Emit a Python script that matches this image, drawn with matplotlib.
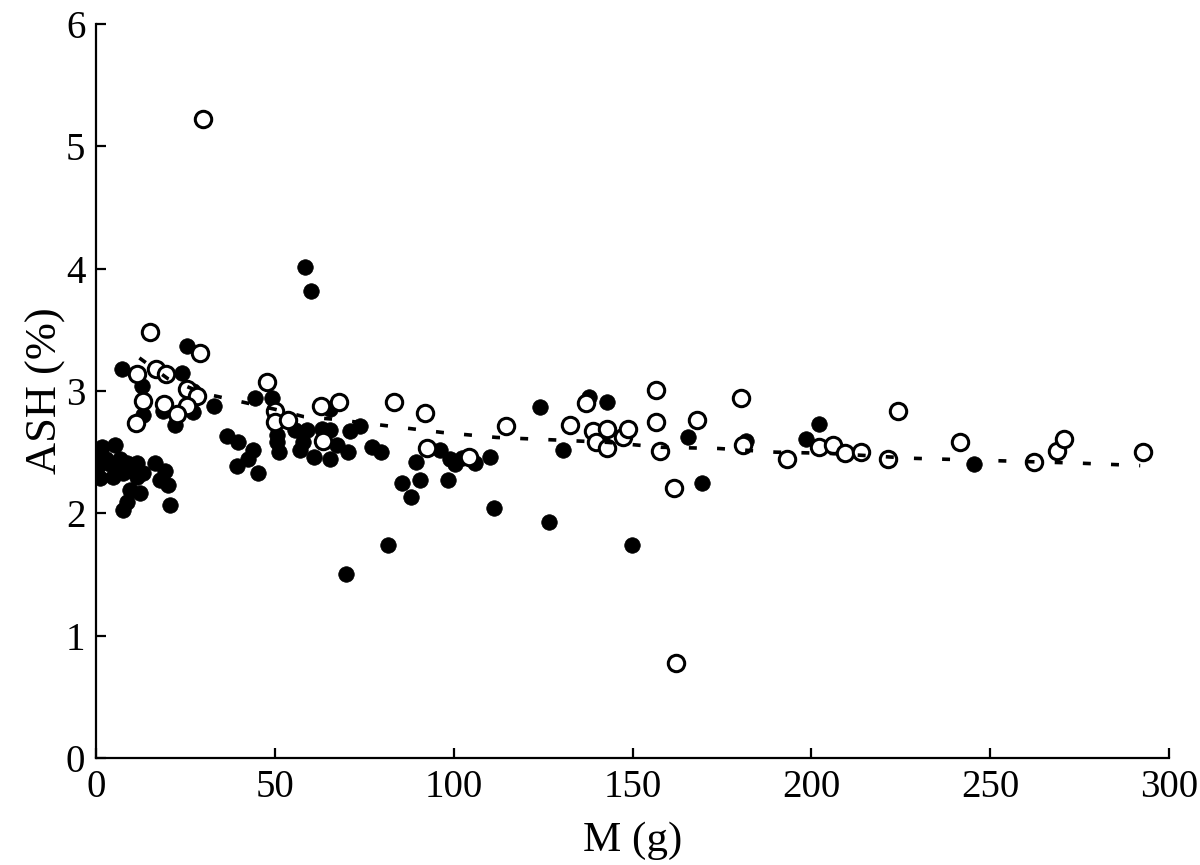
import matplotlib
matplotlib.use("Agg")
import matplotlib.pyplot as plt

plt.rcParams['font.family'] = ['Liberation Serif', 'DejaVu Serif']

# Filled circles
filled_x = [0.1, 1.5, 0.5, 1.0, 5.2, 3.8, 4.6, 6.6, 8.5, 11.3, 7.4, 10.2, 11.3, 13.0, 9.4, 12.2,
            16.4, 19.2, 17.8, 20.0, 8.5, 7.4, 20.6, 2.8, 6.0,
            7.1, 25.3, 23.9, 12.7, 27.0, 18.6, 13.0, 27.0, 22.0, 32.9, 36.5, 39.6, 39.3, 42.4,
            44.3, 49.1, 43.8, 45.2, 50.5, 50.5, 51.0, 55.5, 58.9, 57.8, 56.9, 60.8, 63.1, 65.3,
            65.3, 67.3, 65.3, 70.3, 71.0, 73.7, 77.0, 79.6, 58.3, 60.0, 89.4, 85.5, 90.5, 88.0,
            96.1, 98.9, 100.3, 102.2, 105.9, 110.1, 98.3, 111.2, 81.5, 69.8, 124.0, 137.7, 142.8,
            130.5, 126.6, 149.8, 165.5, 169.4, 198.5, 202.1, 245.5, 181.7]
filled_y = [2.48, 2.54, 2.39, 2.29, 2.56, 2.40, 2.30, 2.44, 2.41, 2.41, 2.33, 2.35, 2.30, 2.33, 2.19, 2.17,
            2.41, 2.35, 2.27, 2.23, 2.09, 2.03, 2.07, 2.44, 2.38,
            3.18, 3.37, 3.15, 3.04, 3.00, 2.84, 2.80, 2.83, 2.72, 2.88, 2.63, 2.58, 2.39, 2.44,
            2.94, 2.94, 2.52, 2.33, 2.64, 2.58, 2.50, 2.68, 2.68, 2.58, 2.52, 2.46, 2.69, 2.68,
            2.85, 2.56, 2.44, 2.50, 2.67, 2.71, 2.54, 2.50, 4.01, 3.82, 2.42, 2.25, 2.27, 2.13,
            2.52, 2.44, 2.40, 2.45, 2.41, 2.46, 2.27, 2.04, 1.74, 1.50, 2.87, 2.95, 2.91,
            2.52, 1.93, 1.74, 2.62, 2.25, 2.61, 2.73, 2.40, 2.59]

# Open circles
open_x = [29.8, 15.0, 29.0, 16.6, 11.3, 19.4, 25.3, 28.1, 13.0, 18.9, 25.3, 22.5, 11.1, 47.7, 49.9,
          49.9, 53.6, 62.8, 67.8, 63.4, 83.2, 91.9, 92.4, 104.2, 114.6, 132.4, 136.9, 138.9, 139.7,
          142.8, 142.8, 147.3, 148.7, 156.5, 156.5, 157.6, 161.6, 168.0, 162.1, 180.3, 180.8, 193.1,
          202.1, 206.0, 209.4, 213.8, 224.2, 221.4, 241.5, 262.2, 268.7, 270.6, 292.7]
open_y = [5.22, 3.48, 3.31, 3.18, 3.14, 3.14, 3.02, 2.96, 2.92, 2.89, 2.88, 2.81, 2.74, 3.07, 2.84,
          2.75, 2.76, 2.88, 2.91, 2.59, 2.91, 2.82, 2.53, 2.46, 2.71, 2.72, 2.90, 2.67, 2.58,
          2.69, 2.53, 2.62, 2.69, 3.01, 2.75, 2.51, 2.21, 2.76, 0.78, 2.94, 2.56, 2.44,
          2.54, 2.56, 2.49, 2.50, 2.84, 2.44, 2.58, 2.42, 2.51, 2.61, 2.50]

# Dashed trend line
fit_x = [12, 20, 30, 50, 58, 66, 80, 97, 112, 128, 143, 158, 174, 190, 205, 228, 252, 275, 292]
fit_y = [3.27, 3.10, 2.98, 2.85, 2.79, 2.77, 2.72, 2.66, 2.62, 2.60, 2.58, 2.54, 2.53, 2.50, 2.49,
         2.45, 2.43, 2.41, 2.39]

x_ticks = [0, 50, 100, 150, 200, 250, 300]
y_ticks = [0, 1, 2, 3, 4, 5, 6]

fig = plt.figure(figsize=(12, 8.65), dpi=100)
ax = fig.add_axes([0.0804, 0.1237, 0.8936, 0.8486])

ax.plot(filled_x, filled_y, linestyle='none', marker='o', markersize=11.2,
        markerfacecolor='black', markeredgecolor='black', markeredgewidth=0.5, zorder=2)
ax.plot(open_x, open_y, linestyle='none', marker='o', markersize=11.8,
        markerfacecolor='white', markeredgecolor='black', markeredgewidth=2.2, zorder=3)
line, = ax.plot(fit_x, fit_y, color='black', linewidth=2.6, zorder=4)
line.set_dashes((2.2, 5.6))

ax.set_xlim(0, 300)
ax.set_ylim(0, 6)
ax.set_xticks(x_ticks)
ax.set_yticks(y_ticks)
ax.set_xticklabels([str(v) for v in x_ticks])
ax.set_yticklabels([str(v) for v in y_ticks])

for s in ['top', 'right']:
    ax.spines[s].set_visible(False)
for s in ['left', 'bottom']:
    ax.spines[s].set_linewidth(1.6)

ax.tick_params(direction='in', length=7, width=1.6, labelsize=28, pad=8)
ax.tick_params(axis='y', pad=8)
ax.set_xlabel('M (g)', fontsize=31, labelpad=11)
ax.set_ylabel('ASH (%)', fontsize=32, labelpad=0)

fig.savefig('out.png', dpi=100)
